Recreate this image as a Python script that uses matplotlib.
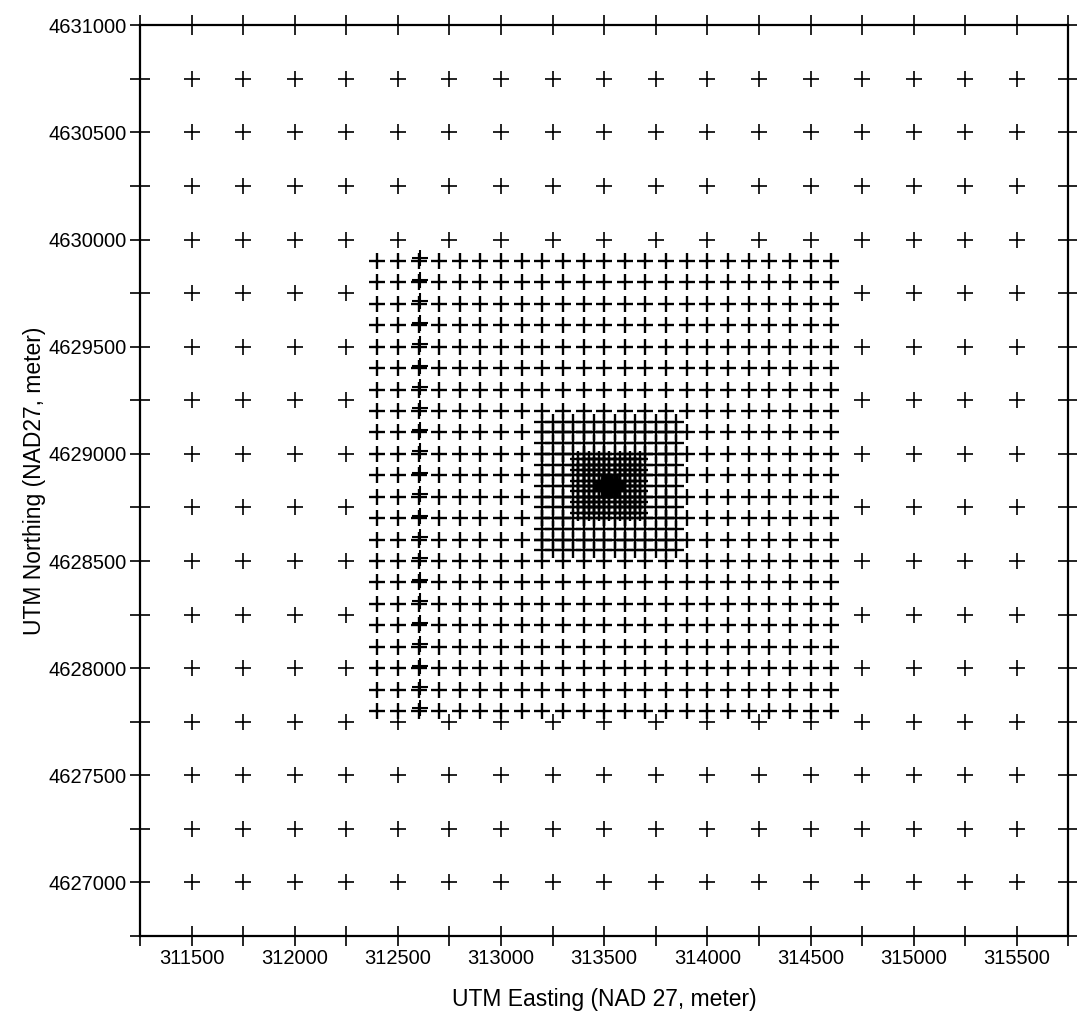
import numpy as np
import matplotlib
matplotlib.use('Agg')
import matplotlib.pyplot as plt

plt.rcParams['font.family'] = ['Liberation Sans', 'DejaVu Sans']

# nested cartesian receptor grids: (x_start, x_end, dx, y_start, y_end, dy)
coarse_grid = (311500, 315500, 250, 4627000, 4630750, 250)
fine_grid = (312400, 314600, 100, 4627800, 4629900, 100)
medium_grid = (313200, 313850, 50, 4628550, 4629150, 50)
finest_grid = (313375, 313675, 25, 4628725, 4628975, 25)
center_grid = (313490, 313560, 10, 4628830, 4628870, 10)

# doubled column of discrete receptors in the fine grid
extra_col_x = 312600
extra_col_shift = (5, 12)

x_ticks = [311500, 312000, 312500, 313000, 313500, 314000, 314500, 315000, 315500]
y_ticks = [4627000, 4627500, 4628000, 4628500, 4629000, 4629500, 4630000, 4630500, 4631000]
x_lim = (311250, 315750)
y_lim = (4626750, 4631000)


def grid_points(g):
    x0, x1, dx, y0, y1, dy = g
    xs = np.arange(x0, x1 + dx / 2, dx)
    ys = np.arange(y0, y1 + dy / 2, dy)
    X, Y = np.meshgrid(xs, ys)
    return X.ravel(), Y.ravel()


fig = plt.figure(figsize=(10.77, 10.13), dpi=100)
ax = fig.add_axes([0.130, 0.076, 0.862, 0.899])

# coarse grid, skipping points inside the 100 m grid box
cx, cy = grid_points(coarse_grid)
inside = ((cx >= fine_grid[0]) & (cx <= fine_grid[1]) &
          (cy >= fine_grid[3]) & (cy <= fine_grid[4]))
ax.plot(cx[~inside], cy[~inside], '+', color='black', ms=12, mew=1.2)

for g, mw in [(fine_grid, 1.7), (medium_grid, 1.7), (finest_grid, 1.7), (center_grid, 1.8)]:
    gx, gy = grid_points(g)
    ax.plot(gx, gy, '+', color='black', ms=11.5, mew=mw)

fx, fy = grid_points(fine_grid)
col = np.isclose(fx, extra_col_x)
ax.plot(fx[col] + extra_col_shift[0], fy[col] + extra_col_shift[1], '+',
        color='black', ms=11, mew=1.5)

ax.set_xlim(*x_lim)
ax.set_ylim(*y_lim)
ax.set_xticks(x_ticks)
ax.set_yticks(y_ticks)
ax.set_xticks(np.arange(x_lim[0], x_lim[1] + 1, 250), minor=True)
ax.set_yticks(np.arange(y_lim[0], y_lim[1] + 1, 250), minor=True)
ax.set_xticklabels([str(v) for v in x_ticks])
ax.set_yticklabels([str(v) for v in y_ticks])

for which in ('major', 'minor'):
    ax.tick_params(axis='both', which=which, direction='inout', length=15, width=1.2,
                   top=True, right=True, labelsize=14.5, pad=2, color='black')

for s in ax.spines.values():
    s.set_linewidth(1.6)

ax.set_xlabel('UTM Easting (NAD 27, meter)', fontsize=16.5, labelpad=14)
ax.set_ylabel('UTM Northing (NAD27, meter)', fontsize=16.5, labelpad=2)

fig.savefig('out.png', dpi=100)
